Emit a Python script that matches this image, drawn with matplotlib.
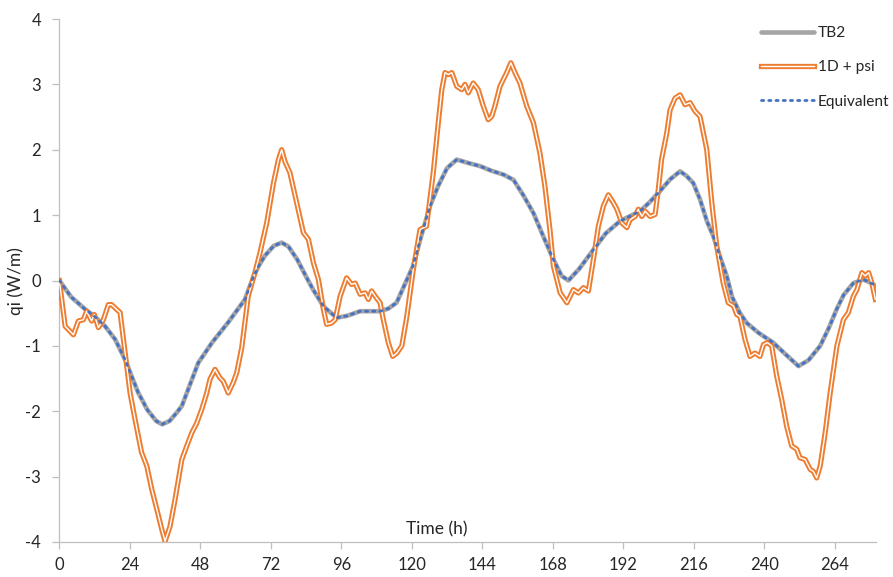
import matplotlib
matplotlib.use("Agg")
import matplotlib.pyplot as plt
import matplotlib.patheffects as pe

# --- data ---
tb2_t = [0, 4, 8.8, 12, 15.6, 19, 22.4, 26.8, 30, 33, 35, 37.5, 40, 41.7, 44, 47.3,
         52, 57.5, 63.2, 66, 67.7, 70, 73, 75.7, 78, 81, 84, 86.4, 90, 94.4, 98,
         102.4, 109.2, 112, 114.8, 117, 120.4, 123, 126.2, 129, 132, 135.3, 139,
         143.2, 147, 151.2, 154.6, 158, 161.4, 165, 168.2, 171, 173.3, 177, 181.8,
         186, 190.9, 197.7, 201, 204.5, 208, 211.3, 213.5, 215.8, 218.1, 220.5,
         222.6, 225, 227.2, 229, 231.7, 234, 238, 243, 247, 251.6, 255, 259, 262,
         264.6, 267, 270.3, 273.7, 276, 278.2]
tb2_v = [0, -0.25, -0.44, -0.55, -0.70, -0.90, -1.21, -1.71, -1.98, -2.15, -2.2,
         -2.15, -2.02, -1.92, -1.65, -1.26, -0.95, -0.64, -0.29, 0.05, 0.21, 0.38,
         0.53, 0.58, 0.52, 0.32, 0.06, -0.14, -0.40, -0.57, -0.54, -0.47, -0.47,
         -0.43, -0.34, -0.12, 0.22, 0.65, 1.14, 1.45, 1.72, 1.85, 1.80, 1.75, 1.68,
         1.62, 1.54, 1.30, 1.03, 0.65, 0.32, 0.07, 0.0, 0.18, 0.47, 0.72, 0.91,
         1.06, 1.20, 1.37, 1.55, 1.67, 1.60, 1.49, 1.24, 0.90, 0.68, 0.35, 0.07,
         -0.25, -0.50, -0.65, -0.80, -0.95, -1.12, -1.31, -1.22, -1.0, -0.72,
         -0.44, -0.22, -0.04, 0.015, -0.03, -0.09]

psi_t = [0, 2, 4.8, 6.5, 8.2, 9.3, 11, 11.9, 13.3, 15, 16.7, 17.8, 19.5, 20.7,
         22.4, 24.1, 25.8, 28, 29.8, 31.5, 33.2, 34.9, 36, 37.7, 39.4, 41.7, 43.4,
         45.1, 46.8, 48.5, 50.2, 51.3, 53, 54.7, 55.8, 57.5, 59.2, 60.4, 62.1,
         64.3, 66.6, 68.3, 70.6, 72.9, 74.6, 75.7, 76.8, 78.5, 80.8, 83.1, 84.8,
         86.5, 88.2, 89.9, 91, 92.7, 93.9, 95.6, 97.8, 99.5, 100.7, 102.4, 104.1,
         105.2, 106.3, 108, 109.2, 110.3, 112, 113.5, 114.9, 116.6, 118.3, 120.5,
         122.8, 125, 127.3, 129, 130.2, 131.3, 132.4, 133.6, 135.3, 137, 138.1,
         139.2, 140.9, 142.6, 144.3, 146, 147.2, 148.3, 150, 152.3, 153.7, 155.1,
         156.8, 159.1, 161.4, 163.6, 165.3, 167, 168.2, 170.5, 172.8, 175, 176.7,
         178.4, 180.1, 181.8, 183.5, 185.2, 186.9, 188.6, 189.8, 191.5, 193.2,
         194.3, 196, 197.1, 198.3, 199.4, 201.1, 202.8, 203.9, 205, 206.8, 207.9,
         209.6, 211.3, 213, 214.7, 216.4, 218.1, 220.4, 222.1, 223.8, 226, 227.7,
         229.5, 230.6, 231.7, 233.4, 235.1, 236.8, 238.5, 239.7, 241, 242.5,
         244.2, 245.9, 247.6, 249.3, 251, 252.1, 253.9, 255.6, 256.7, 257.8, 259,
         260.7, 262.4, 264.7, 266.9, 268.6, 270.3, 271.5, 273.2, 274.3, 275.5,
         276.6, 277.8]
psi_v = [0, -0.70, -0.83, -0.62, -0.60, -0.47, -0.62, -0.52, -0.72, -0.60, -0.37,
         -0.37, -0.44, -0.49, -1.11, -1.72, -2.13, -2.63, -2.84, -3.20, -3.50,
         -3.81, -3.99, -3.76, -3.35, -2.74, -2.53, -2.33, -2.18, -1.97, -1.72,
         -1.51, -1.36, -1.49, -1.54, -1.72, -1.56, -1.41, -1.03, -0.24, 0.12, 0.42,
         0.88, 1.49, 1.85, 2.0, 1.82, 1.65, 1.19, 0.73, 0.63, 0.27, 0.015, -0.44,
         -0.67, -0.65, -0.60, -0.24, 0.04, -0.06, -0.04, -0.21, -0.19, -0.29,
         -0.16, -0.27, -0.34, -0.60, -0.95, -1.16, -1.11, -1.0, -0.55, 0.17, 0.78,
         0.83, 1.65, 2.41, 2.92, 3.18, 3.15, 3.18, 2.97, 2.92, 3.0, 2.87, 3.02,
         2.92, 2.67, 2.46, 2.51, 2.67, 2.97, 3.18, 3.33, 3.18, 3.02, 2.67, 2.41,
         1.95, 1.44, 0.78, 0.22, -0.19, -0.34, -0.14, -0.19, -0.11, -0.16, 0.32,
         0.83, 1.14, 1.31, 1.19, 1.09, 0.88, 0.81, 0.93, 0.98, 1.09, 0.98, 1.06,
         0.98, 1.01, 1.39, 1.85, 2.26, 2.61, 2.79, 2.84, 2.69, 2.72, 2.59, 2.51,
         2.0, 1.19, 0.52, -0.04, -0.34, -0.39, -0.52, -0.55, -0.90, -1.16, -1.11,
         -1.16, -0.98, -0.95, -1.0, -1.46, -1.82, -2.23, -2.53, -2.58, -2.71,
         -2.74, -2.89, -2.92, -3.02, -2.84, -2.33, -1.72, -1.0, -0.60, -0.49,
         -0.24, -0.14, 0.12, 0.07, 0.12, -0.04, -0.29]

# the "Equivalent" series sits on top of TB2
equiv_t = list(tb2_t)
equiv_v = list(tb2_v)

x_ticks = [0, 24, 48, 72, 96, 120, 144, 168, 192, 216, 240, 264]
y_ticks = [-4, -3, -2, -1, 0, 1, 2, 3, 4]

plt.rcParams['font.family'] = ['Lato', 'DejaVu Sans']
plt.rcParams['axes.unicode_minus'] = False

fig = plt.figure(figsize=(8.93, 5.77), dpi=100)
ax = fig.add_axes([59.3 / 893, 1 - 542 / 577, (876 - 59.3) / 893, (542 - 19) / 577])

ax.plot(tb2_t, tb2_v, color='#A5A5A5', lw=3.3, solid_capstyle='round',
        label='TB2', zorder=2)
ax.plot(psi_t, psi_v, color='white', lw=1.0, label='1D + psi', zorder=3,
        path_effects=[pe.Stroke(linewidth=3.8, foreground='#ED7D31'), pe.Normal()])
ax.plot(equiv_t, equiv_v, color='#4472C4', lw=2.0, linestyle=(0, (0.8, 1.8)),
        dash_capstyle='round', label='Equivalent', zorder=4)

ax.set_xlim(0, 278)
ax.set_ylim(-4, 4)
ax.set_xticks(x_ticks)
ax.set_yticks(y_ticks)
for s in ['top', 'right']:
    ax.spines[s].set_visible(False)
for s in ['left', 'bottom']:
    ax.spines[s].set_color('#BFBFBF')
    ax.spines[s].set_linewidth(0.9)
ax.tick_params(colors='#BFBFBF', labelcolor='#262626', labelsize=12,
               length=5, width=0.9, direction='out')
ax.tick_params(axis='x', pad=6)
ax.tick_params(axis='y', pad=8)

# axis titles placed like the original (y title at the far left, x title inside)
fig.text(16 / 893, 1 - 281 / 577, 'qi (W/m)', rotation=90, fontsize=12.5,
         color='#262626', ha='center', va='center')
ax.text(128.6, -3.81, 'Time (h)', fontsize=12.5, color='#262626',
        ha='center', va='center')

leg = ax.legend(loc='upper left', bbox_to_anchor=(755 / 893, 1 - 20 / 577),
                bbox_transform=fig.transFigure, frameon=False, fontsize=11.2,
                handlelength=3.4, handletextpad=0.25, labelspacing=1.3,
                borderaxespad=0)
for txt in leg.get_texts():
    txt.set_color('#262626')

fig.savefig('out.png', dpi=100)
